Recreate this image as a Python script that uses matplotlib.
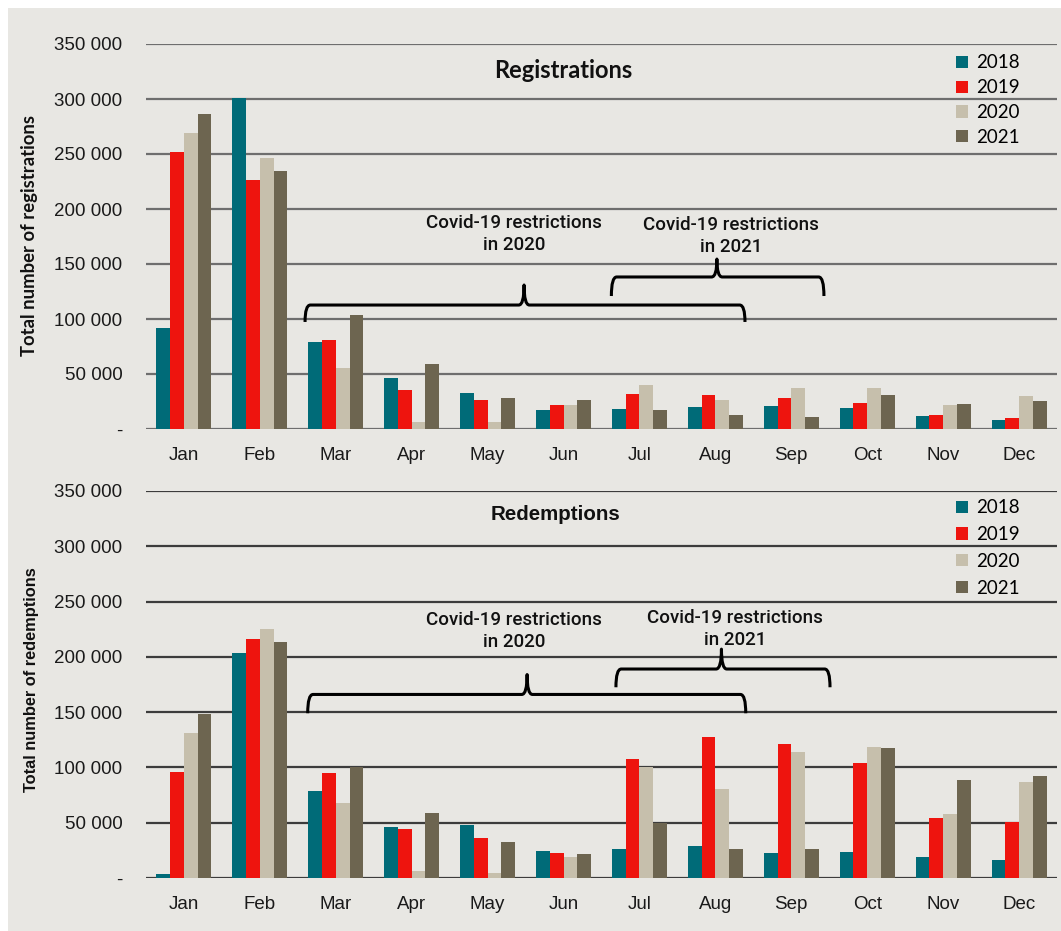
import matplotlib
matplotlib.use('Agg')
import matplotlib.pyplot as plt
import numpy as np
from matplotlib.path import Path
from matplotlib.patches import PathPatch, Rectangle
from matplotlib.ticker import FuncFormatter

months = ['Jan', 'Feb', 'Mar', 'Apr', 'May', 'Jun',
          'Jul', 'Aug', 'Sep', 'Oct', 'Nov', 'Dec']
years = ['2018', '2019', '2020', '2021']

# Monthly registrations per year
reg_2018 = [92000, 301000, 78800, 46000, 32400, 17500, 17900, 20300, 20600, 19100, 11800, 8500]
reg_2019 = [251500, 226000, 80600, 35500, 26400, 21800, 31800, 30600, 28200, 23900, 12400, 10300]
reg_2020 = [269000, 246000, 55000, 6000, 6000, 22000, 40300, 26400, 37600, 37300, 22100, 29700]
reg_2021 = [286000, 234500, 103600, 59000, 28200, 26400, 17000, 12400, 10900, 30900, 22400, 25100]

# Monthly redemptions per year
red_2018 = [3900, 203700, 78600, 46100, 47600, 24100, 25900, 28600, 22600, 23500, 19000, 16300]
red_2019 = [95500, 216300, 94900, 44000, 36200, 22300, 107300, 127200, 121400, 104000, 54200, 50600]
red_2020 = [131400, 225400, 67500, 6300, 4500, 19000, 100000, 80500, 114200, 118100, 57900, 87100]
red_2021 = [148500, 213300, 100000, 58500, 32200, 21400, 50000, 26200, 25900, 117800, 88600, 91900]

colors = ['#006b78', '#ee140e', '#c6bfac', '#6d6550']
bg = '#e8e7e3'

y_ticks = [0, 50000, 100000, 150000, 200000, 250000, 300000, 350000]


def thousands(v, pos):
    if v == 0:
        return '-'
    return f'{int(v):,}'.replace(',', ' ')


def brace(ax, x0, x1, xm, y_end, y_flat, y_tip, dx=0.07):
    # curly bracket: ends turn down, cusp in the middle points up
    verts = [(x0, y_end), (x0, y_flat), (x0 + dx, y_flat),
             (xm - dx, y_flat), (xm, y_flat), (xm, y_tip),
             (xm, y_flat), (xm + dx, y_flat),
             (x1 - dx, y_flat), (x1, y_flat), (x1, y_end)]
    codes = [Path.MOVETO, Path.CURVE3, Path.CURVE3,
             Path.LINETO, Path.CURVE3, Path.CURVE3,
             Path.CURVE3, Path.CURVE3,
             Path.LINETO, Path.CURVE3, Path.CURVE3]
    ax.add_patch(PathPatch(Path(verts, codes), facecolor='none',
                           edgecolor='black', lw=2.2, capstyle='butt',
                           joinstyle='round', zorder=5))


def draw_panel(ax, series, grid_color, tick_font):
    x = np.arange(len(months))
    w = 0.181
    for i, vals in enumerate(series):
        ax.bar(x + (i - 1.5) * w, vals, width=w, color=colors[i],
               label=years[i], zorder=3)
    ax.set_xlim(-0.5, 11.5)
    ax.set_ylim(0, 350000)
    ax.set_yticks(y_ticks)
    ax.yaxis.set_major_formatter(FuncFormatter(thousands))
    ax.set_xticks(x)
    ax.set_xticklabels(months)
    ax.set_facecolor('none')
    for s in ax.spines.values():
        s.set_visible(False)
    ax.tick_params(axis='y', length=0, pad=17, labelsize=13.5)
    ax.tick_params(axis='x', length=0, pad=13, labelsize=13.5)
    for lab in ax.get_xticklabels() + ax.get_yticklabels():
        lab.set_family(tick_font)
        lab.set_color('#1a1a1a')
    for t in y_ticks:
        ax.axhline(t, color=grid_color, lw=1.6, zorder=1)


fig = plt.figure(figsize=(10.61, 9.31), dpi=100, facecolor='white')
panel_bg = Rectangle((8 / 1061, 0), 1 - 8 / 1061, 1 - 8 / 931,
                     transform=fig.transFigure, facecolor=bg,
                     edgecolor='none', zorder=-10)
fig.add_artist(panel_bg)

ax1 = fig.add_axes([146 / 1061, 1 - 429 / 931, 911 / 1061, 385 / 931])
ax2 = fig.add_axes([146 / 1061, 1 - 878 / 931, 911 / 1061, 387 / 931])

draw_panel(ax1, [reg_2018, reg_2019, reg_2020, reg_2021], '#6e6e6e', 'Liberation Sans')
draw_panel(ax2, [red_2018, red_2019, red_2020, red_2021], '#3c3c3c', 'Liberation Sans')

# titles
ax1.text(0.458, 0.932, 'Registrations', transform=ax1.transAxes, ha='center',
         va='center', fontsize=17, family='Lato', fontweight='bold', color='#111111')
ax2.text(0.45, 0.94, 'Redemptions', transform=ax2.transAxes, ha='center',
         va='center', fontsize=14.8, family='Liberation Sans', fontweight='bold',
         color='#111111')

# y labels
fig.text(30 / 1061, 1 - 236 / 931, 'Total number of registrations', rotation=90,
         ha='center', va='center', fontsize=13.3, family='Lato', fontweight='bold',
         color='#111111')
fig.text(32 / 1061, 1 - 680 / 931, 'Total number of redemptions', rotation=90,
         ha='center', va='center', fontsize=11.8, family='Liberation Sans',
         fontweight='bold', color='#111111')

# legends
for ax, sp, top in [(ax1, 0.42, 1.017), (ax2, 0.52, 1.022)]:
    ax.legend(loc='upper right', bbox_to_anchor=(0.978, top), frameon=False,
              handlelength=0.62, handleheight=0.62, handletextpad=0.45,
              labelspacing=sp, prop={'family': 'Lato', 'size': 13.5})

# Covid-19 restriction brackets and notes
note_kw = dict(ha='center', va='center', fontsize=13.5, family='Roboto',
               fontweight='medium', color='#111111', linespacing=1.3, zorder=6)
brace(ax1, 1.595, 7.39, 4.48, 97300, 112700, 130900)
brace(ax1, 5.63, 8.43, 7.02, 120900, 138200, 154500)
ax1.text(4.35, 177000, 'Covid-19 restrictions\nin 2020', **note_kw)
ax1.text(7.21, 175400, 'Covid-19 restrictions\nin 2021', **note_kw)

brace(ax2, 1.63, 7.40, 4.52, 149000, 166000, 184000)
brace(ax2, 5.69, 8.51, 7.08, 172500, 189000, 207000)
ax2.text(4.35, 223700, 'Covid-19 restrictions\nin 2020', **note_kw)
ax2.text(7.26, 225000, 'Covid-19 restrictions\nin 2021', **note_kw)

plt.savefig('out.png', dpi=100, facecolor=fig.get_facecolor())
